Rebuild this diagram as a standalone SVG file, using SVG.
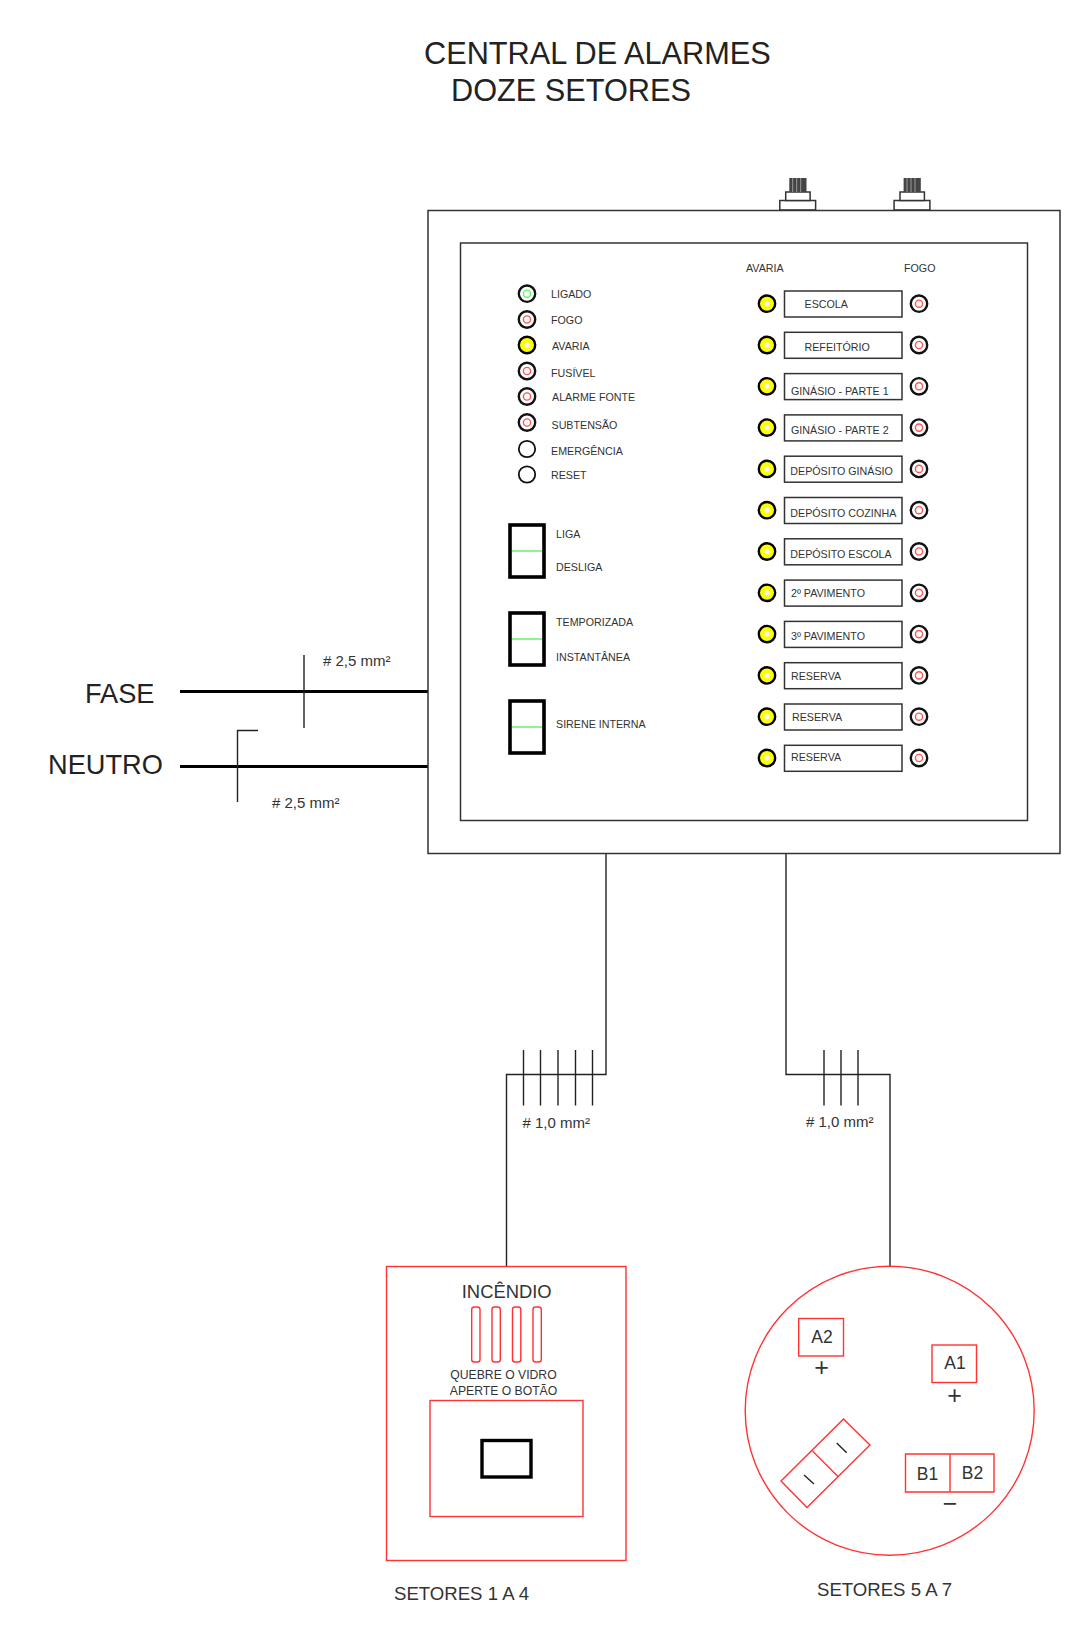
<svg xmlns="http://www.w3.org/2000/svg" width="1083" height="1641" viewBox="0 0 1083 1641">
<style>
text{font-family:"Liberation Sans",Arial,sans-serif;fill:#333}
.s{font-size:10.7px}
.m{font-size:15px}
.l{font-size:18.600px}
.t{font-size:30.700px;fill:#222}
.w{font-size:27.200px;fill:#222}
.c{text-anchor:middle}
.k{fill:none;stroke:#222;stroke-width:1.4}
.h{fill:none;stroke:#000;stroke-width:2.8}
.r{fill:none;stroke:#f33;stroke-width:1.4}
.box{fill:#fff;stroke:#333;stroke-width:1.5}
.o{fill:#fff;stroke:#111;stroke-width:1.8}
.lo{fill:#fff;stroke:#111;stroke-width:2.4}
.y{fill:#ff0;stroke:#000;stroke-width:2.4}
.ri{fill:none;stroke:#f55;stroke-width:1.4}
.gi{fill:none;stroke:#5f5;stroke-width:1.4}
</style>
<defs>
<g id="ledr"><circle r="8.2" class="lo"/><circle r="3.6" class="ri"/></g>
<g id="ledy"><circle r="8.2" class="y"/><circle r="2.5" fill="#fff"/></g>
<g id="knob"><rect x="-17.9" y="-9.5" width="35.8" height="9.5" class="box"/><rect x="-12" y="-18" width="24.4" height="8.5" class="box"/><rect x="-8.4" y="-32" width="17.2" height="14" fill="#444"/><path d="M-5-32v14M-1-32v14M3-32v14" stroke="#999" stroke-width="1"/></g>
<g id="sw"><rect x="0" y="0" width="34" height="52" fill="#fff" stroke="#000" stroke-width="3.600"/><path d="M2 26h30" stroke="#4e4" stroke-width="1.2"/></g>
</defs>

<g id="title"><text class="t" x="424" y="64">CENTRAL DE ALARMES</text><text class="t" x="451" y="101">DOZE SETORES</text></g>

<g id="connectors">
<path class="h" d="M180 691.500H428M180 766.500H428"/>
<path class="k" d="M304 655V728M258 730.500H237.500V802"/>
<path class="k" d="M606 853V1074.500H506.500V1266M786 853V1074.500H890V1266"/>
<path class="k" d="M523.500 1050V1105.500M540.500 1050V1105.500M558 1050V1105.500M575.500 1050V1105.500M592.500 1050V1105.500M824 1050V1105.500M841 1050V1105.500M858 1050V1105.500"/>
</g>

<g id="central">
<use href="#knob" x="797.700" y="210"/><use href="#knob" x="912" y="210"/>
<rect x="428" y="210.500" width="632" height="643" class="box"/>
<rect x="460.500" y="243" width="567" height="577.500" class="box"/>
</g>

<g id="status-leds">
<g id="led-ligado"><circle cx="527" cy="293.700" r="8.200" class="lo"/><circle cx="527" cy="293.700" r="3.600" class="gi"/><text class="s" x="551" y="298">LIGADO</text></g>
<g id="led-fogo"><use href="#ledr" x="527" y="319.500"/><text class="s" x="551" y="324">FOGO</text></g>
<g id="led-avaria"><use href="#ledy" x="527" y="345"/><text class="s" x="552" y="349.700">AVARIA</text></g>
<g id="led-fusivel"><use href="#ledr" x="527" y="371"/><text class="s" x="551" y="376.500">FUSÍVEL</text></g>
<g id="led-alarme"><use href="#ledr" x="527" y="396.500"/><text class="s" x="552" y="400.700">ALARME FONTE</text></g>
<g id="led-subtensao"><use href="#ledr" x="527" y="422.500"/><text class="s" x="551.500" y="428.700">SUBTENSÃO</text></g>
<g id="led-emergencia"><circle cx="527" cy="449" r="8.200" class="o"/><text class="s" x="551" y="454.700">EMERGÊNCIA</text></g>
<g id="led-reset"><circle cx="527" cy="474.500" r="8.200" class="o"/><text class="s" x="551" y="478.700">RESET</text></g>
</g>

<g id="switches">
<g id="sw-liga"><use href="#sw" x="510" y="525"/><text class="s" x="556" y="537.700">LIGA</text><text class="s" x="556" y="570.700">DESLIGA</text></g>
<g id="sw-temp"><use href="#sw" x="510" y="613"/><text class="s" x="556" y="625.700">TEMPORIZADA</text><text class="s" x="556" y="660.700">INSTANTÂNEA</text></g>
<g id="sw-sirene"><use href="#sw" x="510" y="701"/><text class="s" x="556" y="727.700">SIRENE INTERNA</text></g>
</g>

<g id="sectors">
<text class="s" x="746" y="271.500">AVARIA</text><text class="s" x="904" y="271.500">FOGO</text>
<g id="sector-1"><use href="#ledy" x="767" y="303.700"/><rect x="784.500" y="291" width="117.500" height="26" class="box"/><use href="#ledr" x="919" y="303.700"/><text class="s" x="804.500" y="307.700">ESCOLA</text></g>
<g id="sector-2"><use href="#ledy" x="767" y="345"/><rect x="784.500" y="332.300" width="117.500" height="26" class="box"/><use href="#ledr" x="919" y="345"/><text class="s" x="804.500" y="350.700">REFEITÓRIO</text></g>
<g id="sector-3"><use href="#ledy" x="767" y="386.300"/><rect x="784.500" y="373.600" width="117.500" height="26" class="box"/><use href="#ledr" x="919" y="386.300"/><text class="s" x="791" y="394.700">GINÁSIO - PARTE 1</text></g>
<g id="sector-4"><use href="#ledy" x="767" y="427.600"/><rect x="784.500" y="414.900" width="117.500" height="26" class="box"/><use href="#ledr" x="919" y="427.600"/><text class="s" x="791" y="433.700">GINÁSIO - PARTE 2</text></g>
<g id="sector-5"><use href="#ledy" x="767" y="468.900"/><rect x="784.500" y="456.200" width="117.500" height="26" class="box"/><use href="#ledr" x="919" y="468.900"/><text class="s" x="790.300" y="474.700">DEPÓSITO GINÁSIO</text></g>
<g id="sector-6"><use href="#ledy" x="767" y="510.200"/><rect x="784.500" y="497.500" width="117.500" height="26" class="box"/><use href="#ledr" x="919" y="510.200"/><text class="s" x="790.300" y="516.700">DEPÓSITO COZINHA</text></g>
<g id="sector-7"><use href="#ledy" x="767" y="551.500"/><rect x="784.500" y="538.800" width="117.500" height="26" class="box"/><use href="#ledr" x="919" y="551.500"/><text class="s" x="790.300" y="557.700">DEPÓSITO ESCOLA</text></g>
<g id="sector-8"><use href="#ledy" x="767" y="592.800"/><rect x="784.500" y="580.100" width="117.500" height="26" class="box"/><use href="#ledr" x="919" y="592.800"/><text class="s" x="791" y="596.700">2º PAVIMENTO</text></g>
<g id="sector-9"><use href="#ledy" x="767" y="634.100"/><rect x="784.500" y="621.400" width="117.500" height="26" class="box"/><use href="#ledr" x="919" y="634.100"/><text class="s" x="791" y="639.700">3º PAVIMENTO</text></g>
<g id="sector-10"><use href="#ledy" x="767" y="675.400"/><rect x="784.500" y="662.700" width="117.500" height="26" class="box"/><use href="#ledr" x="919" y="675.400"/><text class="s" x="791" y="680">RESERVA</text></g>
<g id="sector-11"><use href="#ledy" x="767" y="716.700"/><rect x="784.500" y="704" width="117.500" height="26" class="box"/><use href="#ledr" x="919" y="716.700"/><text class="s" x="792" y="721">RESERVA</text></g>
<g id="sector-12"><use href="#ledy" x="767" y="758"/><rect x="784.500" y="745.300" width="117.500" height="26" class="box"/><use href="#ledr" x="919" y="758"/><text class="s" x="791" y="761">RESERVA</text></g>
</g>

<g id="wire-labels">
<text class="w" x="85" y="702.500">FASE</text><text class="w" x="48" y="774">NEUTRO</text>
<text class="m" x="323" y="665.500"># 2,5 mm²</text><text class="m" x="272" y="807.500"># 2,5 mm²</text>
<text class="m" x="522.500" y="1127.500"># 1,0 mm²</text><text class="m" x="806" y="1126.500"># 1,0 mm²</text>
</g>

<g id="acionador">
<rect x="386.500" y="1266.500" width="239.500" height="294" class="r"/>
<text class="c" x="506.700" y="1298" style="font-size:18.400px">INCÊNDIO</text>
<rect x="471.700" y="1307" width="8.300" height="55" rx="2.500" class="r"/><rect x="492" y="1307" width="8.300" height="55" rx="2.500" class="r"/><rect x="512.500" y="1307" width="8.300" height="55" rx="2.500" class="r"/><rect x="533" y="1307" width="8.300" height="55" rx="2.500" class="r"/>
<text class="c" x="503.500" y="1379" style="font-size:12.200px">QUEBRE O VIDRO</text><text class="c" x="503.500" y="1395" style="font-size:12.200px">APERTE O BOTÃO</text>
<rect x="430" y="1400.500" width="153" height="116" class="r"/>
<rect x="482" y="1440.500" width="49" height="36.500" fill="none" stroke="#000" stroke-width="3.400"/>
<text class="l" x="394" y="1599.500">SETORES 1 A 4</text>
</g>

<g id="sirene">
<circle cx="889.700" cy="1410.700" r="144.500" class="r"/>
<rect x="798.700" y="1318.500" width="44.800" height="37.500" class="r"/><text class="c" x="822" y="1342.500" style="font-size:17.500px">A2</text><text class="c" x="821.500" y="1375.500" style="font-size:25px">+</text>
<rect x="932" y="1345" width="44.500" height="37.500" class="r"/><text class="c" x="955" y="1369" style="font-size:17.500px">A1</text><text class="c" x="954.500" y="1403.500" style="font-size:25px">+</text>
<path class="r" d="M905.500 1454H994V1492H905.500ZM950 1454V1492"/><text class="c" x="927.500" y="1480" style="font-size:17.500px">B1</text><text class="c" x="972.500" y="1479" style="font-size:17.500px">B2</text><text class="c" x="950" y="1511.500" style="font-size:25px">−</text>
<path class="r" d="M781 1481L843.500 1419L870 1445L807 1507.500ZM812.500 1451L838.500 1477"/>
<path class="k" d="M836.700 1443L846.700 1452.700M804 1475L814 1484"/>
<text class="l" x="817" y="1595.500">SETORES 5 A 7</text>
</g>
</svg>
